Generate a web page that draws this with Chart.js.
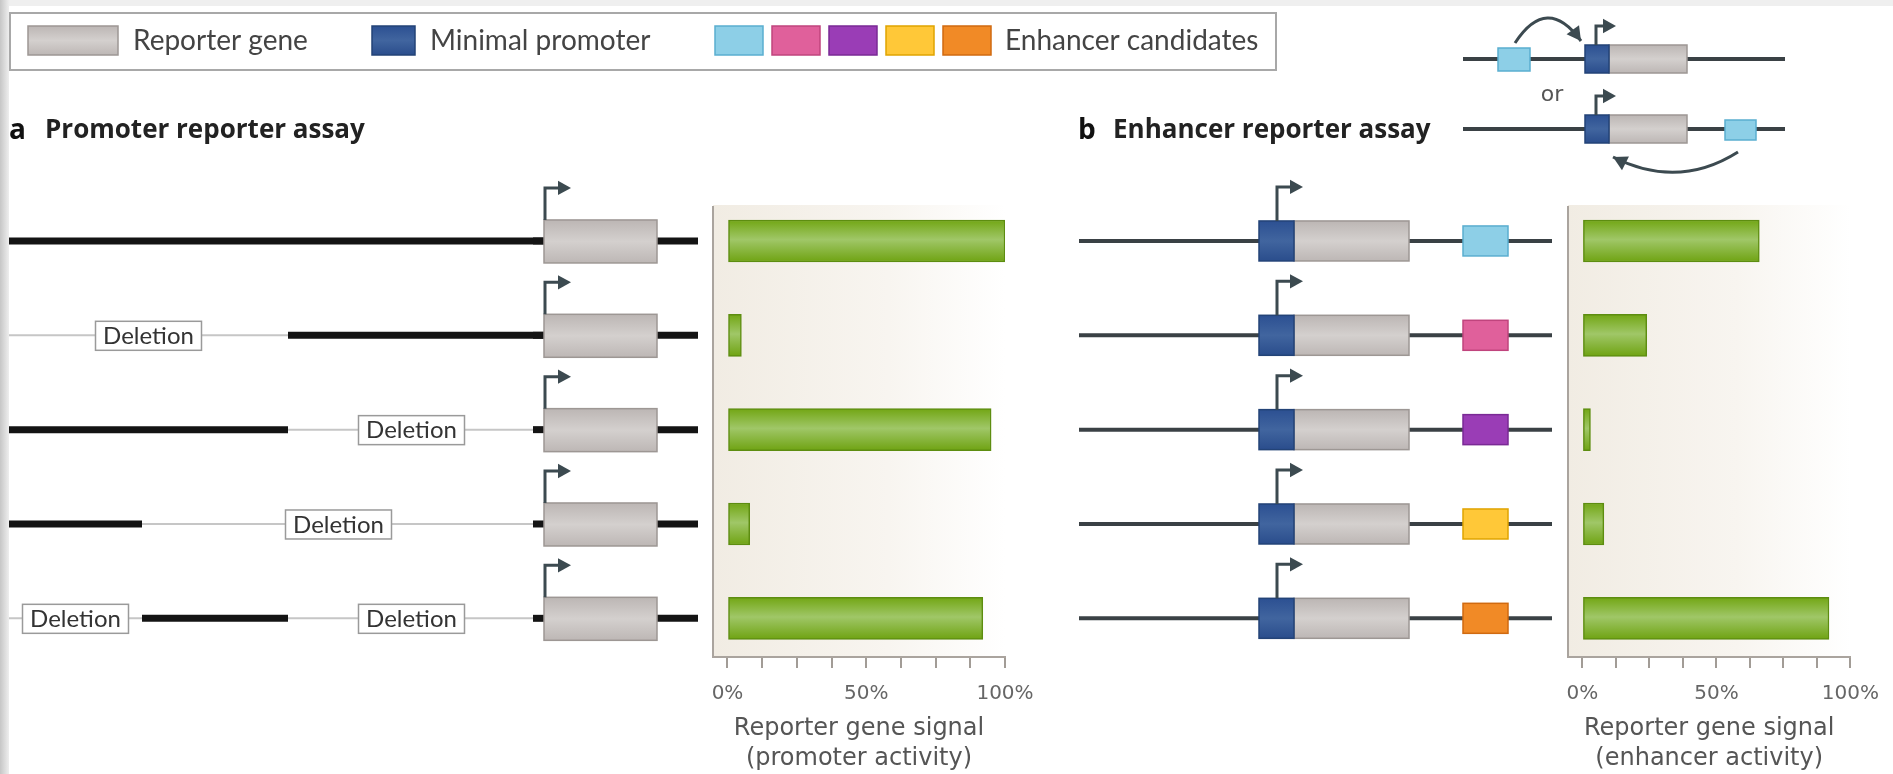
<!DOCTYPE html>
<html>
<head>
<meta charset="utf-8">
<title>Promoter and enhancer reporter assays</title>
<script src="https://cdn.jsdelivr.net/npm/chart.js@4.4.1/dist/chart.umd.min.js"></script>
<style>
  html, body { margin: 0; padding: 0; background: #fff; }
  #wrap { position: relative; width: 1893px; height: 774px; overflow: hidden; }
  #wrap canvas { position: absolute; left: 0; top: 0; }
</style>
</head>
<body>
<div id="wrap">
  <canvas id="chartA" width="1893" height="774"></canvas>
  <canvas id="chartB" width="1893" height="774"></canvas>
</div>
<script>
// constructs, top to bottom
const constructs = ['1', '2', '3', '4', '5'];
// reporter gene signal, % of max
const promoterActivity = [100, 5, 95, 8, 92];
const enhancerActivity = [66, 24, 3, 8, 92];
// upstream region of promoter constructs in 3 pieces: 1 = kept, 0 = deleted
const upstreamKept = [[1, 1, 1], [0, 0, 1], [1, 1, 0], [1, 0, 0], [0, 1, 0]];
const enhancerColors = ['#8dcfe7', '#e0609b', '#9a3db6', '#ffc838', '#f18a26'];
const enhancerBorders = ['#5aaed0', '#c0447d', '#7a2a95', '#e0a400', '#d06a10'];
const xTicks = [0, 12.5, 25, 37.5, 50, 62.5, 75, 87.5, 100];
const xTickLabels = ['0%', '', '', '', '50%', '', '', '', '100%'];

const BAR_H = 42;
const INK = '#3c4a50';
const LABEL_FONT = 'Lato, "Open Sans", sans-serif';
const TITLE_FONT = '"Open Sans", Lato, sans-serif';

Chart.defaults.font.family = '"DejaVu Sans", sans-serif';

function txt(ctx, s, x, y, font, color, align) {
    ctx.font = font;
    ctx.fillStyle = color;
    ctx.textAlign = align || 'left';
    ctx.textBaseline = 'middle';
    ctx.fillText(s, x, y);
}

function shadedBox(ctx, x, y, w, h, top, mid, bottom, stroke) {
    const g = ctx.createLinearGradient(0, y, 0, y + h);
    g.addColorStop(0, top);
    g.addColorStop(0.5, mid);
    g.addColorStop(1, bottom);
    ctx.fillStyle = g;
    ctx.fillRect(x, y, w, h);
    ctx.strokeStyle = stroke;
    ctx.lineWidth = 1.5;
    ctx.strokeRect(x, y, w, h);
}

function geneBox(ctx, x, y, w, h) {
    shadedBox(ctx, x, y, w, h, '#bcb6b4', '#d4d0ce', '#bdb7b5', '#9d9794');
}

function promoterBox(ctx, x, y, w, h) {
    shadedBox(ctx, x, y, w, h, '#2c5092', '#41659f', '#2a4d8c', '#234377');
}

function enhancerBox(ctx, x, y, w, h, k) {
    shadedBox(ctx, x, y, w, h, enhancerColors[k], enhancerColors[k], enhancerColors[k], enhancerBorders[k]);
}

function arrowHead(ctx, x, y, angle, size) {
    ctx.save();
    ctx.translate(x, y);
    ctx.rotate(angle);
    ctx.beginPath();
    ctx.moveTo(0, 0);
    ctx.lineTo(-size, -size * 0.55);
    ctx.lineTo(-size, size * 0.55);
    ctx.closePath();
    ctx.fill();
    ctx.restore();
}

// transcription start arrow
function tss(ctx, x, yBase, yTop, xTip) {
    ctx.strokeStyle = INK;
    ctx.fillStyle = INK;
    ctx.lineWidth = 3;
    ctx.beginPath();
    ctx.moveTo(x, yBase);
    ctx.lineTo(x, yTop);
    ctx.lineTo(xTip - 8, yTop);
    ctx.stroke();
    arrowHead(ctx, xTip, yTop, 0, 13);
}

function curvedArrow(ctx, x0, y0, cx, cy, x1, y1) {
    ctx.strokeStyle = INK;
    ctx.fillStyle = INK;
    ctx.lineWidth = 3;
    ctx.beginPath();
    ctx.moveTo(x0, y0);
    ctx.quadraticCurveTo(cx, cy, x1, y1);
    ctx.stroke();
    arrowHead(ctx, x1, y1, Math.atan2(y1 - cy, x1 - cx), 14);
}

function hline(ctx, x0, x1, y, w, color) {
    ctx.strokeStyle = color;
    ctx.lineWidth = w;
    ctx.lineCap = 'butt';
    ctx.beginPath();
    ctx.moveTo(x0, y);
    ctx.lineTo(x1, y);
    ctx.stroke();
}

function deletionLabel(ctx, cx, cy) {
    ctx.fillStyle = '#fff';
    ctx.fillRect(cx - 53, cy - 14, 106, 29);
    ctx.strokeStyle = '#9a9a9a';
    ctx.lineWidth = 1.5;
    ctx.strokeRect(cx - 53, cy - 14, 106, 29);
    txt(ctx, 'Deletion', cx, cy + 1, '24px ' + LABEL_FONT, '#333', 'center');
}

function barFill(context) {
    const chart = context.chart;
    const y = chart.scales && chart.scales.y;
    if (!chart.chartArea || !y) return '#8aba36';
    const yc = y.getPixelForValue(context.dataIndex);
    const g = chart.ctx.createLinearGradient(0, yc - BAR_H / 2, 0, yc + BAR_H / 2);
    g.addColorStop(0, '#72a614');
    g.addColorStop(0.47, '#a0c768');
    g.addColorStop(0.55, '#98c15a');
    g.addColorStop(1, '#6fa312');
    return g;
}

const plotBackground = {
    id: 'plotBackground',
    beforeDraw(chart) {
        const {ctx, chartArea: a} = chart;
        const g = ctx.createLinearGradient(a.left, 0, a.right, 0);
        g.addColorStop(0, '#f1ece3');
        g.addColorStop(0.6, '#f8f5f0');
        g.addColorStop(1, '#ffffff');
        ctx.save();
        ctx.fillStyle = g;
        ctx.fillRect(a.left, a.top - 2, a.right - a.left, a.bottom - a.top + 2);
        ctx.restore();
    }
};

// panel a: legend, title and the promoter constructs
const promoterDecor = {
    id: 'promoterDecor',
    beforeDraw(chart) {
        const ctx = chart.ctx;
        ctx.save();
        // page edges
        const edge = ctx.createLinearGradient(0, 0, 9, 0);
        edge.addColorStop(0, '#c6c6c6');
        edge.addColorStop(1, '#eeeeee');
        ctx.fillStyle = edge;
        ctx.fillRect(0, 0, 9, 774);
        ctx.fillStyle = '#efefef';
        ctx.fillRect(9, 0, 1884, 6);
        ctx.restore();
    },
    afterDraw(chart) {
        const ctx = chart.ctx;
        const y = chart.scales.y;
        ctx.save();

        // legend
        ctx.fillStyle = '#fff';
        ctx.fillRect(10, 13, 1266, 57);
        ctx.strokeStyle = '#a8a8a8';
        ctx.lineWidth = 2;
        ctx.strokeRect(10, 13, 1266, 57);
        geneBox(ctx, 28, 26, 90, 29);
        txt(ctx, 'Reporter gene', 133, 41, '28px ' + LABEL_FONT, '#444');
        promoterBox(ctx, 372, 26, 43, 29);
        txt(ctx, 'Minimal promoter', 430, 41, '28px ' + LABEL_FONT, '#444');
        enhancerColors.forEach((c, k) => enhancerBox(ctx, 715 + k * 57, 26, 48, 29, k));
        txt(ctx, 'Enhancer candidates', 1005, 41, '28px ' + LABEL_FONT, '#444');

        // title
        txt(ctx, 'a', 9, 131, 'bold 28px ' + TITLE_FONT, '#111');
        txt(ctx, 'Promoter reporter assay', 45, 131, 'bold 26px ' + TITLE_FONT, '#222');

        // constructs
        const cuts = [9, 142, 288, 535];
        constructs.forEach((c, i) => {
            const yc = y.getPixelForValue(i);
            const kept = upstreamKept[i];
            // group pieces into runs
            const runs = [];
            kept.forEach((k, j) => {
                const last = runs[runs.length - 1];
                if (last && last.k === k) last.x1 = cuts[j + 1];
                else runs.push({k: k, x0: cuts[j], x1: cuts[j + 1]});
            });
            runs.forEach(r => {
                if (!r.k) hline(ctx, r.x0, r.x1 + 2, yc, 2, '#c6c6c6');
            });
            runs.forEach(r => {
                if (r.k) hline(ctx, r.x0, r.x1 === 535 ? 544 : r.x1, yc, 7, '#141414');
            });
            hline(ctx, 533, 544, yc, 7, '#141414');
            hline(ctx, 657, 698, yc, 7, '#141414');
            runs.forEach(r => {
                if (!r.k) deletionLabel(ctx, (r.x0 + r.x1) / 2, yc);
            });
            geneBox(ctx, 544, yc - 21, 113, 43);
            tss(ctx, 545, yc - 21, yc - 53, 571);
        });
        ctx.restore();
    }
};

// panel b: title, inset and the enhancer constructs
const enhancerDecor = {
    id: 'enhancerDecor',
    afterDraw(chart) {
        const ctx = chart.ctx;
        const y = chart.scales.y;
        ctx.save();

        txt(ctx, 'b', 1078, 131, 'bold 28px ' + TITLE_FONT, '#111');
        txt(ctx, 'Enhancer reporter assay', 1113, 131, 'bold 26px ' + TITLE_FONT, '#222');

        // inset: enhancer upstream or downstream
        hline(ctx, 1463, 1785, 59, 4, '#3a4145');
        enhancerBox(ctx, 1498, 48, 32, 23, 0);
        geneBox(ctx, 1609, 45, 78, 28);
        promoterBox(ctx, 1585, 45, 24, 28);
        tss(ctx, 1596, 45, 26, 1616);
        curvedArrow(ctx, 1515, 43, 1547, -6, 1581, 41);
        txt(ctx, 'or', 1552, 95, '22px "DejaVu Sans", sans-serif', '#555', 'center');
        hline(ctx, 1463, 1785, 129, 4, '#3a4145');
        geneBox(ctx, 1609, 115, 78, 28);
        promoterBox(ctx, 1585, 115, 24, 28);
        enhancerBox(ctx, 1725, 120, 31, 20, 0);
        tss(ctx, 1596, 115, 96, 1616);
        curvedArrow(ctx, 1738, 152, 1678, 190, 1613, 157);

        constructs.forEach((c, i) => {
            const yc = y.getPixelForValue(i);
            hline(ctx, 1079, 1552, yc, 4, '#3a4145');
            geneBox(ctx, 1294, yc - 20, 115, 40);
            promoterBox(ctx, 1259, yc - 20, 35, 40);
            enhancerBox(ctx, 1463, yc - 15, 45, 30, i);
            tss(ctx, 1277, yc - 20, yc - 54, 1303);
        });
        ctx.restore();
    }
};

function makeConfig(values, titleLines, padLeft, padRight, xMin, decor) {
    return {
        type: 'bar',
        data: {
            datasets: [{
                data: values.map((v, i) => ({x: v, y: i})),
                backgroundColor: barFill,
                borderColor: '#5d8d10',
                borderWidth: 1.5,
                borderSkipped: false,
                barThickness: BAR_H
            }]
        },
        options: {
            indexAxis: 'y',
            responsive: false,
            animation: false,
            events: [],
            layout: {padding: {left: padLeft, right: padRight, top: 207, bottom: 0}},
            plugins: {legend: {display: false}, tooltip: {enabled: false}},
            scales: {
                x: {
                    type: 'linear',
                    min: xMin,
                    max: 100,
                    afterBuildTicks: s => { s.ticks = xTicks.map(v => ({value: v})); },
                    afterFit: s => { s.height = 117; },
                    grid: {drawOnChartArea: false, drawTicks: true, tickLength: 11, color: '#a29c96', lineWidth: 2},
                    border: {display: true, color: '#aaa49e', width: 2},
                    ticks: {
                        autoSkip: false,
                        maxRotation: 0,
                        padding: 14,
                        color: '#666',
                        font: {size: 20},
                        callback: (v, i) => xTickLabels[i]
                    },
                    title: {
                        display: true,
                        text: titleLines,
                        color: '#555',
                        font: {size: 24, lineHeight: 1.25},
                        padding: {top: 0, bottom: 0}
                    }
                },
                y: {
                    type: 'linear',
                    reverse: true,
                    offset: false,
                    min: -0.36,
                    max: 4.41,
                    afterFit: s => { s.width = 0; },
                    grid: {display: false},
                    ticks: {display: false},
                    border: {display: true, color: '#aaa49e', width: 2}
                }
            }
        },
        plugins: [plotBackground, decor]
    };
}

new Chart(document.getElementById('chartA'),
    makeConfig(promoterActivity, ['Reporter gene signal', '(promoter activity)'], 713, 888, -5.225, promoterDecor));
new Chart(document.getElementById('chartB'),
    makeConfig(enhancerActivity, ['Reporter gene signal', '(enhancer activity)'], 1568, 31, -5.376, enhancerDecor));
</script>
</body>
</html>
